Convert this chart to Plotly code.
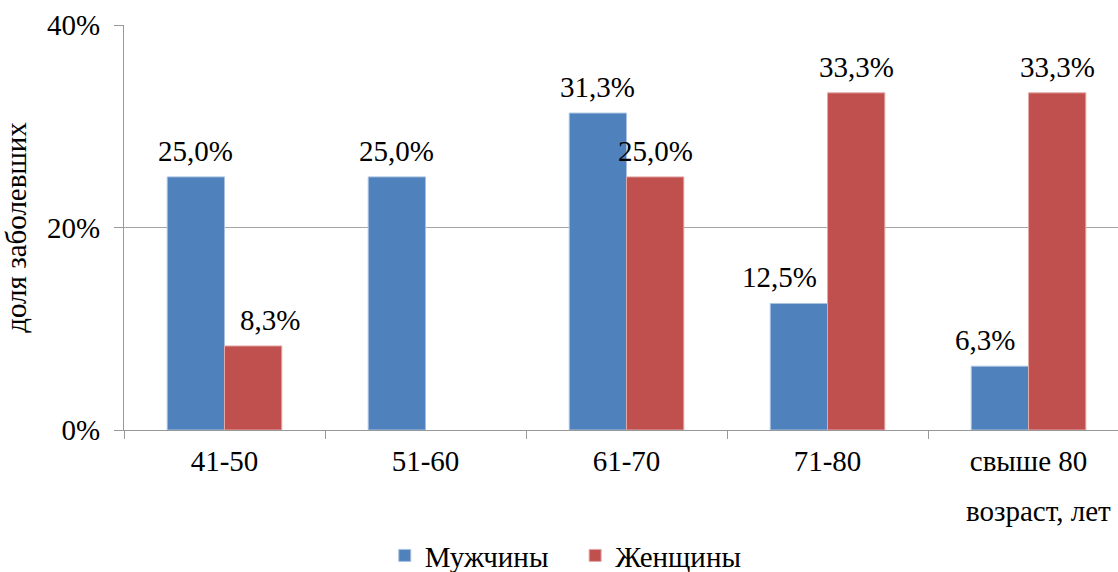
import plotly.graph_objects as go

categories = ["41-50", "51-60", "61-70", "71-80", "свыше 80"]
men = [25.0, 25.0, 31.3, 12.5, 6.3]
women = [8.3, None, 25.0, 33.3, 33.3]
series_names = ["Мужчины", "Женщины"]
colors = ["#4F81BD", "#C0504D"]
y_ticks = [0, 20, 40]

FONT = "Liberation Serif"
FS = 29

# manual label nudges (style only), px, as in the original
label_nudge = {("Женщины", "41-50"): 16, ("Мужчины", "71-80"): -19,
               ("Мужчины", "свыше 80"): -15}

def fmt(v):
    return f"{v:.1f}%".replace(".", ",")

fig = go.Figure()
for name, vals, col, edge in [(series_names[0], men, colors[0], "#A9C1E0"),
                              (series_names[1], women, colors[1], "#E3A9A8")]:
    fig.add_trace(go.Bar(
        x=categories, y=vals, name=name + "   ",
        marker=dict(color=col, line=dict(color=edge, width=1)),
    ))

# data labels above bars
for name, vals, shift in [(series_names[0], men, -29), (series_names[1], women, 29)]:
    for c, v in zip(categories, vals):
        if v:
            fig.add_annotation(x=c, y=v, text=fmt(v), showarrow=False,
                               xshift=shift + label_nudge.get((name, c), 0),
                               yanchor="bottom", yshift=8,
                               font=dict(family=FONT, size=FS, color="#000"))

fig.update_layout(
    width=1118, height=572,
    margin=dict(l=124, r=0, t=25, b=142, autoexpand=False),
    paper_bgcolor="white", plot_bgcolor="white",
    barmode="group", bargap=0.43, bargroupgap=0,
    font=dict(family=FONT, size=FS, color="#000"),
    showlegend=True,
    legend=dict(orientation="h", x=0.455, xanchor="center", y=-0.31, yanchor="middle",
                font=dict(family=FONT, size=FS), itemwidth=30, traceorder="normal"),
)
fig.update_xaxes(
    range=[-0.5, 4.445], showline=True, linecolor="#999", linewidth=1,
    ticks="outside", tickson="boundaries", ticklen=8, tickcolor="#999",
    showgrid=False, tickfont=dict(family=FONT, size=FS), ticklabelstandoff=5,
)
fig.update_yaxes(
    range=[0, 40], tickvals=y_ticks, ticktext=[f"{t}%" for t in y_ticks],
    showline=True, linecolor="#999", linewidth=1,
    ticks="outside", ticklen=9, tickcolor="#999",
    showgrid=True, gridcolor="#A6A6A6", gridwidth=1, zeroline=False,
    tickfont=dict(family=FONT, size=FS), ticklabelstandoff=8,
    title=dict(text="доля заболевших", font=dict(family=FONT, size=FS), standoff=14),
)
fig.add_annotation(text="возраст, лет", xref="paper", yref="paper", x=0.995, y=-0.2,
                   xanchor="right", yanchor="middle", showarrow=False,
                   font=dict(family=FONT, size=FS))
fig.write_html("out.html")
